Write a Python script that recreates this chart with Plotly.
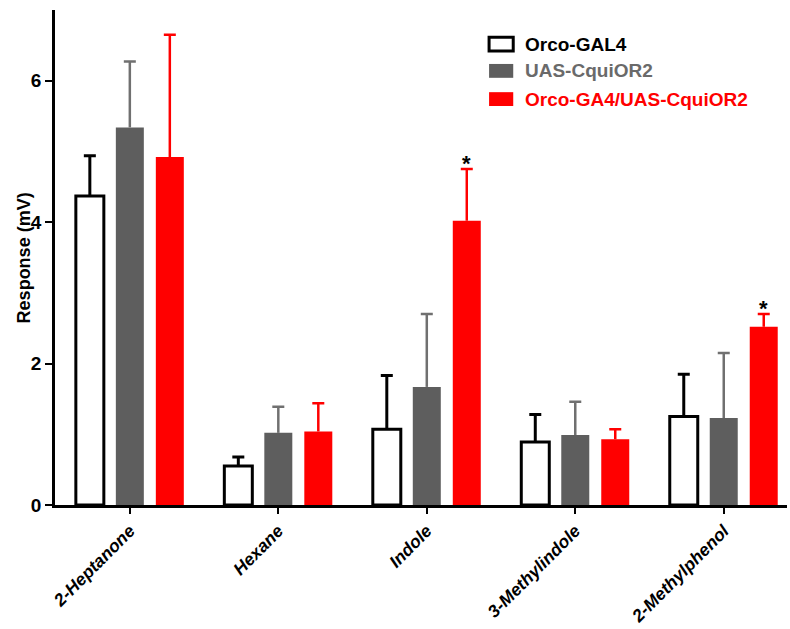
import plotly.graph_objects as go

# Odorant panel and mean responses (mV) with SEM for each genotype
odorants = ["2-Heptanone", "Hexane", "Indole", "3-Methylindole", "2-Methylphenol"]

orco_gal4_mean = [4.37, 0.55, 1.07, 0.89, 1.25]
orco_gal4_sem = [0.57, 0.13, 0.76, 0.39, 0.60]

uas_cquior2_mean = [5.34, 1.02, 1.67, 0.99, 1.23]
uas_cquior2_sem = [0.93, 0.37, 1.03, 0.47, 0.92]

cross_mean = [4.92, 1.04, 4.02, 0.93, 2.52]
cross_sem = [1.73, 0.40, 0.73, 0.14, 0.18]

# Odorants where the cross differs significantly from controls
significant = ["Indole", "2-Methylphenol"]

series_names = ["Orco-GAL4", "UAS-CquiOR2", "Orco-GA4/UAS-CquiOR2"]
fill_colors = ["white", "#5e5e5e", "#ff0000"]
line_colors = ["black", "#5e5e5e", "#ff0000"]
err_colors = ["black", "#707070", "#ff0000"]
legend_text_colors = ["black", "#6a6a6a", "#ff0000"]

FONT = "Arial, Liberation Sans, Helvetica, sans-serif"

fig = go.Figure()

for k, (name, means, sems, fill, line, errc) in enumerate(zip(
    series_names,
    [orco_gal4_mean, uas_cquior2_mean, cross_mean],
    [orco_gal4_sem, uas_cquior2_sem, cross_sem],
    fill_colors, line_colors, err_colors,
)):
    outlined = fill == "white"
    thick = 3 if outlined else 2.5
    # Bar with an upward whisker only (no caps)
    fig.add_trace(go.Bar(
        name=name,
        x=odorants,
        y=means,
        offsetgroup=str(k),
        marker=dict(
            color=fill,
            line=dict(color=line, width=3 if outlined else 0),
            cornerradius=0 if outlined else 2,
        ),
        error_y=dict(
            type="data",
            symmetric=False,
            array=sems,
            arrayminus=[0] * len(sems),
            color=errc,
            thickness=thick,
            width=0,
        ),
        showlegend=False,
    ))
    # Cap at the top of each whisker: a zero-height bar sitting at mean + SEM
    tops = [m + s for m, s in zip(means, sems)]
    fig.add_trace(go.Bar(
        x=odorants,
        y=[0] * len(tops),
        base=tops,
        offsetgroup=str(k),
        marker=dict(color="rgba(0,0,0,0)", line=dict(width=0)),
        error_y=dict(type="data", array=[0] * len(tops),
                     color=errc, thickness=thick, width=6),
        showlegend=False,
        hoverinfo="skip",
    ))

# Significance asterisks above the cross's error bars
for od in significant:
    i = odorants.index(od)
    fig.add_annotation(
        x=od, y=cross_mean[i] + cross_sem[i],
        xref="x", yref="y", xshift=40, yshift=-9,
        text="<b>*</b>", showarrow=False, yanchor="bottom",
        font=dict(family=FONT, size=22, color="black"),
    )

# Legend drawn as boxes with colour-matched labels
legend_y = [0.931, 0.877, 0.820]
for name, fill, line, tc, ly in zip(series_names, fill_colors, line_colors,
                                    legend_text_colors, legend_y):
    fig.add_shape(
        type="rect", xref="paper", yref="paper",
        x0=0.593, x1=0.626, y0=ly - 0.014, y1=ly + 0.014,
        fillcolor=fill,
        line=dict(color=line, width=3 if fill == "white" else 0),
    )
    fig.add_annotation(
        xref="paper", yref="paper", x=0.639, y=ly,
        text=f"<b>{name}</b>", showarrow=False,
        xanchor="left", yanchor="middle",
        font=dict(family=FONT, size=19, color=tc),
    )

# Y-axis title, set close to the tick labels
fig.add_annotation(
    xref="paper", yref="paper", x=-0.0425, y=0.5,
    text="<b>Response (mV)</b>", textangle=-90, showarrow=False,
    xanchor="center", yanchor="middle",
    font=dict(family=FONT, size=18, color="black"),
)

fig.update_layout(
    width=790, height=629,
    margin=dict(l=55, r=3, t=10, b=124),
    paper_bgcolor="white",
    plot_bgcolor="white",
    barmode="group",
    bargap=0.192,
    bargroupgap=0.3,
    font=dict(family=FONT, size=18, color="black"),
    xaxis=dict(
        range=[-0.504, 4.426],
        automargin=False,
        showline=True, linecolor="black", linewidth=2.5,
        ticks="outside", ticklen=6, tickwidth=2, tickcolor="black",
        tickangle=-45,
        tickvals=odorants,
        ticktext=[f"<b><i>{o}</i></b>" for o in odorants],
        tickfont=dict(family=FONT, size=17.5, color="black"),
        showgrid=False, zeroline=False,
    ),
    yaxis=dict(
        range=[0, 7],
        automargin=False,
        tickvals=[0, 2, 4, 6],
        ticktext=["<b>0</b>", "<b>2</b>", "<b>4</b>", "<b>6</b>"],
        showline=True, linecolor="black", linewidth=2.5,
        ticks="outside", ticklen=7, tickwidth=2, tickcolor="black",
        tickfont=dict(family=FONT, size=19, color="black"),
        showgrid=False, zeroline=False,
    ),
)

fig.write_html("out.html")
